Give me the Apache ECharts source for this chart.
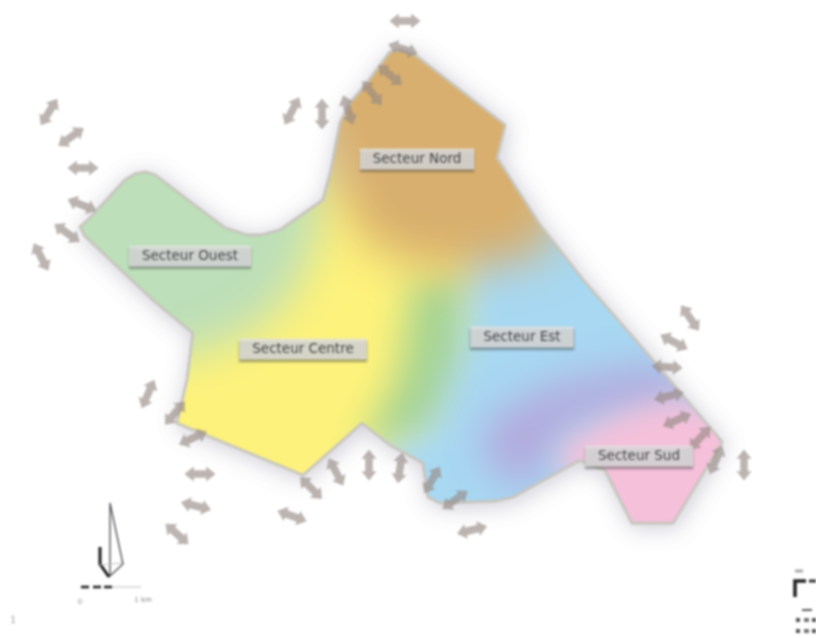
<!DOCTYPE html>
<html>
<head>
<meta charset="utf-8">
<style>
html,body{margin:0;padding:0;background:#fff;width:816px;height:638px;overflow:hidden}
#c{width:816px;height:638px;filter:blur(1.3px)}
</style>
<script src="https://cdn.jsdelivr.net/npm/echarts@6/dist/echarts.min.js"></script>
</head>
<body>
<div id="c"></div>
<script>
var outline = [[80,227],[90,218],[125,180],[135,174],[145,172],[155,175],[197,207],[225,228],[247,235],[262,235],[280,230],[323,200],[331,170],[340,123],[350,103],[367,83],[390,52],[400,50],[415,55],[505,125],[497,158],[540,225],[583,280],[650,357],[722,442],[673,523],[632,523],[605,470],[580,460],[513,497],[495,501],[440,503],[428,497],[423,463],[390,445],[362,423],[303,475],[177,423],[187,380],[193,333],[153,300],[85,236]];

var zoneOuest = [[30,120],[340,120],[360,300],[300,420],[150,420],[30,270]];
var zoneCentre = [[325,170],[520,180],[520,440],[360,480],[300,530],[110,470],[130,370],[232,342],[285,305],[315,245]];
var zoneBand = [[412,280],[470,275],[478,380],[440,440],[360,445],[398,375]];
var zoneEst = [[470,200],[620,200],[780,350],[760,500],[560,560],[430,560],[350,470],[430,425],[462,340],[465,280]];
var zoneNord = [[360,0],[560,60],[560,190],[548,252],[480,268],[420,266],[365,242],[338,190],[300,100]];
var zoneLavande = [[482,425],[550,385],[640,366],[685,372],[695,410],[590,418],[550,445],[535,490],[490,470]];
var zoneSud = [[622,412],[670,398],[780,420],[720,580],[600,580],[590,490],[558,470],[565,442]];

var zones = [
  {name:'Ouest', points:zoneOuest, color:'#bddfb9', blur:30},
  {name:'Centre', points:zoneCentre, color:'#fdf27c', blur:44},
  {name:'Bande', points:zoneBand, color:'#a8d492', blur:36},
  {name:'Est', points:zoneEst, color:'#a8d8f2', blur:34},
  {name:'Nord', points:zoneNord, color:'#d8af6e', blur:46},
  {name:'Lavande', points:zoneLavande, color:'#b4a8dc', blur:42},
  {name:'Sud', points:zoneSud, color:'#f5c0da', blur:28}
];

var arrows = [
  [49,112,58],[71,137,35],[83,168,0],[82,205,-22],[67,233,-35],[41,257,-62],
  [292,111,62],[322,114,90],[348,110,-72],[372,93,-52],[390,75,-40],[403,49,-18],[405,21,0],
  [690,318,-55],[674,342,-28],[667,367,-4],[669,396,14],[677,420,24],[700,438,48],[716,460,66],[744,465,90],
  [148,394,66],[175,413,50],[193,438,25],[200,474,0],[196,506,-14],[177,534,-42],
  [292,516,-20],[311,488,-45],[336,472,-62],[369,465,90],[400,468,82],[432,480,60],[455,500,35],[472,530,14]
];

var sectorLabels = [
  ['Secteur Nord',417,159],
  ['Secteur Ouest',190,256],
  ['Secteur Centre',303,349],
  ['Secteur Est',522,337],
  ['Secteur Sud',639,456]
];

var sketchLines = [
  {pts:[[110,503],[123,564],[110,576],[110,503]], color:'#55565a', w:1.4},
  {pts:[[100,547],[100,564],[109,577]], color:'#1c1c1c', w:3},
  {pts:[[100,565],[122,563]], color:'#c4c4c4', w:1},
  {pts:[[81,587],[89,587]], color:'#222', w:2.6},
  {pts:[[93,587],[101,587]], color:'#222', w:2.6},
  {pts:[[104,587],[112,587]], color:'#222', w:2.6},
  {pts:[[112,587],[141,587]], color:'#c8c8c8', w:1.2},
  {pts:[[795,597],[795,581],[806,581]], color:'#222', w:3.6},
  {pts:[[809,581],[816,581]], color:'#333', w:3},
  {pts:[[802,610],[812,610]], color:'#333', w:1.6},
  {pts:[[795,571],[803,571]], color:'#aaa', w:3},
  {pts:[[796,620],[800,620]], color:'#555', w:4},
  {pts:[[804,620],[809,620]], color:'#777', w:4},
  {pts:[[812,620],[816,620]], color:'#555', w:4},
  {pts:[[796,631],[800,631]], color:'#555', w:4},
  {pts:[[804,631],[809,631]], color:'#777', w:4},
  {pts:[[812,631],[816,631]], color:'#555', w:4}
];

var smallTexts = [
  ['0',80,602,'#777',7],
  ['1 km',143,600,'#666',7],
  ['1',13,621,'#888',9]
];

var arrowPath = 'path://M0 6 L9 0 L9 3 L21 3 L21 0 L30 6 L21 12 L21 9 L9 9 L9 12 Z';
var OFF = 3000;

function px(api, pts){ return pts.map(function(p){ return api.coord(p); }); }

var chart = echarts.init(document.getElementById('c'), null, {renderer:'canvas'});
chart.setOption({
  animation:false,
  backgroundColor:'#fff',
  grid:{left:0,right:0,top:0,bottom:0},
  xAxis:{type:'value',min:0,max:816,show:false},
  yAxis:{type:'value',min:0,max:638,inverse:true,show:false},
  series:[
    {
      type:'custom', name:'halo', coordinateSystem:'cartesian2d', clip:false, z:1,
      data:[[0,0]], silent:true,
      renderItem:function(p,api){
        return {type:'polygon',shape:{points:px(api,outline)},
          style:{fill:'#ffffff',stroke:'rgba(205,202,196,1)',lineWidth:3,lineJoin:'round',
            shadowBlur:22,shadowColor:'rgba(135,130,150,0.38)',shadowOffsetX:2,shadowOffsetY:3}};
      }
    },
    {
      type:'custom', name:'zones', coordinateSystem:'cartesian2d', clip:false, z:2,
      data:zones.map(function(z,i){return [i,0];}), silent:true,
      renderItem:function(p,api){
        var z = zones[p.dataIndex];
        var pts = px(api,z.points).map(function(q){return [q[0]-OFF,q[1]];});
        return {type:'polygon',shape:{points:pts},
          style:{fill:z.color,shadowColor:z.color,shadowBlur:z.blur,shadowOffsetX:OFF},
          clipPath:{type:'polygon',shape:{points:px(api,outline)}}};
      }
    },
    {
      type:'custom', name:'border', coordinateSystem:'cartesian2d', clip:false, z:3,
      data:[[0,0]], silent:true,
      renderItem:function(p,api){
        return {type:'polygon',shape:{points:px(api,outline)},
          style:{fill:'none',stroke:'rgba(200,198,190,0.85)',lineWidth:2.8,lineJoin:'round'}};
      }
    },
    {
      type:'scatter', name:'fleches', z:4, silent:true,
      data:arrows, symbol:arrowPath, symbolSize:[31,15],
      symbolRotate:function(v){return v[2];},
      itemStyle:{color:'rgba(150,138,132,0.8)'}
    },
    {
      type:'custom', name:'croquis', coordinateSystem:'cartesian2d', clip:false, z:4,
      data:sketchLines.map(function(s,i){return [i,0];}), silent:true,
      renderItem:function(p,api){
        var s = sketchLines[p.dataIndex];
        return {type:'polyline',shape:{points:px(api,s.pts)},
          style:{fill:'none',stroke:s.color,lineWidth:s.w}};
      }
    },
    {
      type:'scatter', name:'secteurs', z:6, silent:true, symbolSize:0,
      data:sectorLabels.map(function(l){return {value:[l[1],l[2]],name:l[0]};}),
      label:{show:true,position:'inside',
        formatter:function(o){return o.name;},
        fontFamily:'DejaVu Sans',fontSize:13.5,color:'#1e1e22',
        backgroundColor:'#e2e2e2',padding:[3,13,4,13],
        shadowColor:'rgba(60,60,60,0.6)',shadowBlur:2,shadowOffsetY:2}
    },
    {
      type:'scatter', name:'textes', z:6, silent:true, symbolSize:0,
      data:smallTexts.map(function(t){return {value:[t[1],t[2]],name:t[0],
        label:{color:t[3],fontSize:t[4]}};}),
      label:{show:true,position:'inside',formatter:function(o){return o.name;},fontFamily:'DejaVu Sans'}
    }
  ]
});
</script>
</body>
</html>
